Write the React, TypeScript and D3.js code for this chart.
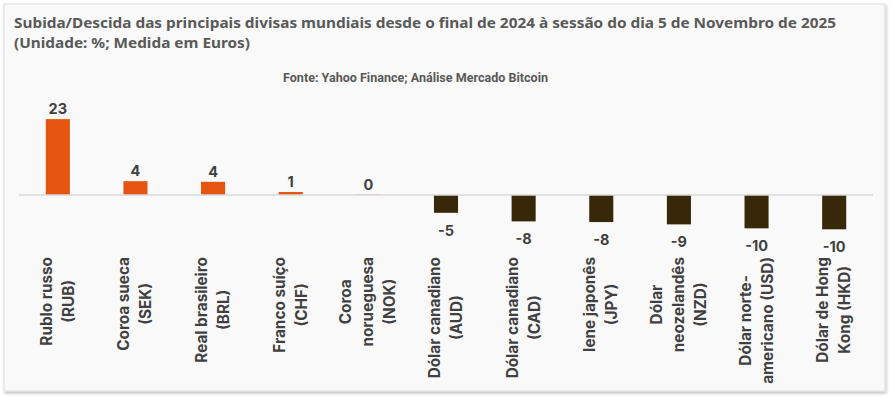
import React, { useEffect, useRef } from "react";
import * as d3 from "d3";

const categories = [
  "Rublo russo\n(RUB)",
  "Coroa sueca\n(SEK)",
  "Real brasileiro\n(BRL)",
  "Franco suíço\n(CHF)",
  "Coroa\nnorueguesa\n(NOK)",
  "Dólar canadiano\n(AUD)",
  "Dólar canadiano\n(CAD)",
  "Iene japonês\n(JPY)",
  "Dólar\nneozelandês\n(NZD)",
  "Dólar norte-\namericano (USD)",
  "Dólar de Hong\nKong (HKD)",
];
const values = [23.0, 4.2, 4.0, 0.9, 0.1, -5.4, -8.0, -8.2, -8.9, -10.1, -10.4];

const titleLines = [
  "Subida/Descida das principais divisas mundiais desde o final de 2024 à sessão do dia 5 de Novembro de 2025",
  "(Unidade: %; Medida em Euros)",
];
const source = "Fonte: Yahoo Finance; Análise Mercado Bitcoin";

export default function App() {
  const ref = useRef<SVGSVGElement>(null);

  useEffect(() => {
    const width = 892;
    const height = 398;
    const svg = d3.select(ref.current);
    svg.selectAll("*").remove();

    const defs = svg.append("defs");
    const f = defs.append("filter").attr("id", "shadow").attr("x", "-5%").attr("y", "-5%").attr("width", "110%").attr("height", "115%");
    f.append("feDropShadow").attr("dx", 1).attr("dy", 2).attr("stdDeviation", 1.5).attr("flood-color", "#000").attr("flood-opacity", 0.25);

    svg.append("rect").attr("width", width).attr("height", height).attr("fill", "#ffffff");
    svg.append("rect")
      .attr("x", 4).attr("y", 4).attr("width", 881).attr("height", 387)
      .attr("fill", "#f9f9f9").attr("stroke", "#dcdcdc").attr("stroke-width", 1)
      .attr("filter", "url(#shadow)");

    const condensed = "'Liberation Sans Narrow', 'Roboto', sans-serif";
    const title = svg.append("g").attr("fill", "#595959").style("font-family", "'Noto Sans', sans-serif")
      .style("font-weight", "bold").style("font-size", "15px");
    title.append("text").attr("x", 14).attr("y", 28).attr("textLength", 822)
      .attr("lengthAdjust", "spacingAndGlyphs").text(titleLines[0]);
    title.append("text").attr("x", 14).attr("y", 48).attr("textLength", 236)
      .attr("lengthAdjust", "spacingAndGlyphs").text(titleLines[1]);

    svg.append("text").attr("x", 283).attr("y", 82).attr("textLength", 265)
      .attr("lengthAdjust", "spacingAndGlyphs")
      .style("font-family", condensed).style("font-weight", "bold").style("font-size", "12.5px")
      .attr("fill", "#595959").text(source);

    const x = d3.scaleBand<number>().domain(d3.range(values.length)).range([19, 873]).padding(0.69).paddingOuter(0.345);
    const y = d3.scaleLinear().domain([-12, 24]).range([234.6, 115.8]);
    const y0 = y(0);

    const g = svg.append("g");

    g.selectAll(".bar").data(values).enter().append("rect")
      .attr("class", "bar")
      .attr("x", (d, i) => x(i)!)
      .attr("width", x.bandwidth())
      .attr("y", d => (d >= 0 ? y(d) : y0))
      .attr("height", d => Math.abs(y(d) - y0))
      .attr("fill", d => (d >= 0 ? "#e6550f" : "#38280a"));

    g.append("line").attr("x1", 19).attr("x2", 873).attr("y1", y0).attr("y2", y0)
      .attr("stroke", "#d9d9d9").attr("stroke-width", 1.5);

    const fmt = (v: number) => String(Math.round(v));
    g.selectAll(".val").data(values).enter().append("text")
      .attr("class", "val")
      .attr("x", (d, i) => x(i)! + x.bandwidth() / 2)
      .attr("y", d => (d >= 0 ? y(d) - 5 : y(d) + 23))
      .attr("text-anchor", "middle")
      .style("font-family", "Inter, sans-serif").style("font-weight", "bold").style("font-size", "14.5px")
      .attr("fill", "#404040")
      .text(d => fmt(d));

    // category labels: rotated, lines centred on each other, longest line's top at y=257
    const lineH = 22;
    categories.forEach((c, i) => {
      const lines = c.split("\n");
      const cx = x(i)! + x.bandwidth() / 2;
      const texts = lines.map((ln, j) => {
        const lx = cx + (j - (lines.length - 1) / 2) * lineH + 5;
        return g.append("text")
          .attr("data-x", lx)
          .attr("text-anchor", "middle")
          .style("font-family", "Inter, sans-serif").style("font-weight", "bold").style("font-size", "15.3px")
          .attr("fill", "#404040")
          .text(ln);
      });
      const maxW = d3.max(texts, t => (t.node() as SVGTextElement).getComputedTextLength()) || 0;
      texts.forEach(t => {
        t.attr("transform", `translate(${t.attr("data-x")},${257 + maxW / 2}) rotate(-90)`);
      });
    });
  }, []);

  return (
    <svg ref={ref} width={892} height={398} style={{ position: "absolute", left: 0, top: 0 }} />
  );
}
